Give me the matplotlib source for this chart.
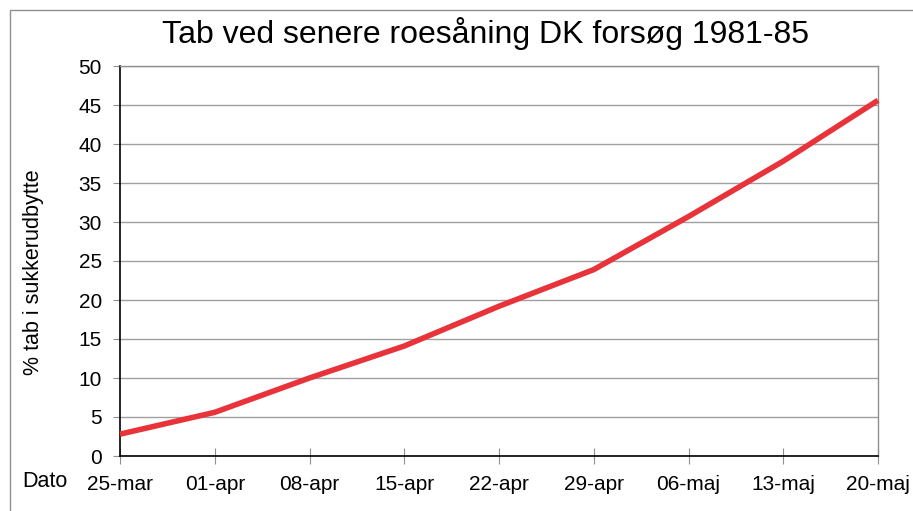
import matplotlib
matplotlib.use("Agg")
import matplotlib.pyplot as plt
from matplotlib.patches import Rectangle

plt.rcParams['font.family'] = ['Liberation Sans', 'DejaVu Sans']

dates = ["25-mar", "01-apr", "08-apr", "15-apr", "22-apr", "29-apr", "06-maj", "13-maj", "20-maj"]
loss = [2.8, 5.6, 10.0, 14.1, 19.2, 23.9, 30.7, 37.8, 45.6]
yticks = [0, 5, 10, 15, 20, 25, 30, 35, 40, 45, 50]

fig = plt.figure(figsize=(9.13, 5.11), dpi=100)
ax = fig.add_axes([120/913, 1 - 456/511, (878-120)/913, (456-66)/511])

x = list(range(len(dates)))
ax.plot(x, loss, color="#e8333a", lw=4, solid_capstyle="butt", zorder=3, clip_on=False)

ax.set_xlim(0, len(dates) - 1)
ax.set_ylim(0, 50)
ax.set_yticks(yticks)
ax.set_xticks(x)
ax.set_xticklabels(dates)
ax.yaxis.grid(True, color="#a0a0a0", lw=1)
ax.set_axisbelow(True)
for s in ["top", "right"]:
    ax.spines[s].set_color("#909090")
    ax.spines[s].set_linewidth(1)
for s in ["left", "bottom"]:
    ax.spines[s].set_color("black")
    ax.spines[s].set_linewidth(1.2)
ax.tick_params(axis="y", direction="out", length=5, color="#909090", labelsize=15, pad=8)
ax.tick_params(axis="x", direction="inout", length=12, color="#909090", labelsize=15, pad=8)

ax.set_ylabel("% tab i sukkerudbytte", fontsize=15.5)
ax.yaxis.set_label_coords((44 - 120) / (878 - 120), (456 - 272) / (456 - 66))

fig.text(22/913, 1 - 481/511, "Dato", fontsize=15.5, ha="left", va="center")
fig.text(485/913, 1 - 33/511, "Tab ved senere roesåning DK forsøg 1981-85", fontsize=23,
         ha="center", va="center")

fig.patches.append(Rectangle((10/913, -0.02), 1.02, 1 - 10/511 + 0.02, transform=fig.transFigure,
                             fill=False, edgecolor="#909090", lw=1))

fig.savefig("out.png", dpi=100)
